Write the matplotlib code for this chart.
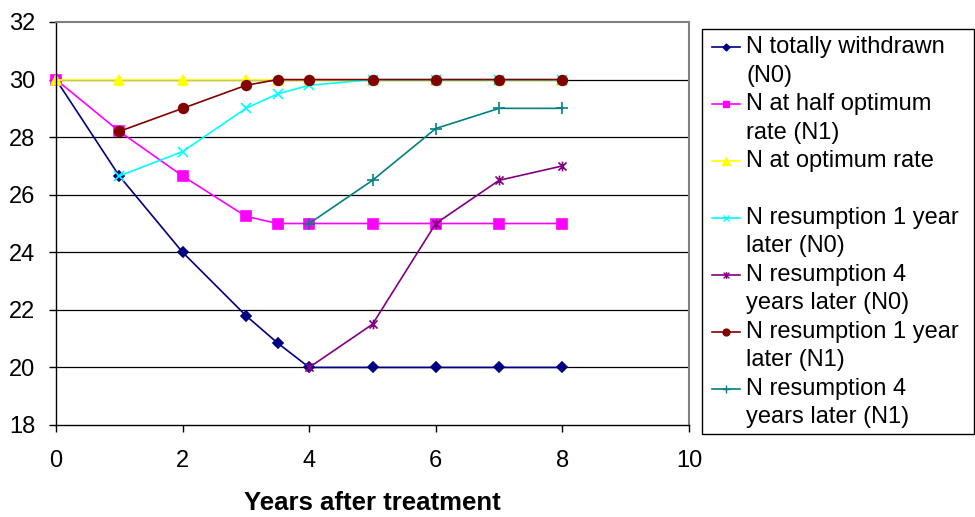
import matplotlib
matplotlib.use("Agg")
import matplotlib.pyplot as plt
from matplotlib.path import Path
from matplotlib.patches import Rectangle
from matplotlib.lines import Line2D

plt.rcParams['font.family'] = ['Liberation Sans', 'DejaVu Sans']

# nitrogen level over time for each treatment
years_full = [0, 1, 2, 3, 3.5, 4, 5, 6, 7, 8]
years_res1 = [1, 2, 3, 3.5, 4, 5, 6, 7, 8]
years_res4 = [4, 5, 6, 7, 8]

n_withdrawn = [30, 26.65, 24, 21.8, 20.85, 20, 20, 20, 20, 20]
n_half = [30, 28.2, 26.65, 25.25, 25, 25, 25, 25, 25, 25]
n_optimum = [30, 30, 30, 30, 30, 30, 30, 30, 30, 30]
n_res1_n0 = [26.65, 27.5, 29.0, 29.5, 29.8, 30, 30, 30, 30]
n_res4_n0 = [20, 21.5, 25, 26.5, 27]
n_res1_n1 = [28.2, 29.0, 29.8, 30, 30, 30, 30, 30, 30]
n_res4_n1 = [25, 26.5, 28.3, 29, 29]

labels = [
    "N totally withdrawn\n(N0)",
    "N at half optimum\nrate (N1)",
    "N at optimum rate\n",
    "N resumption 1 year\nlater (N0)",
    "N resumption 4\nyears later (N0)",
    "N resumption 1 year\nlater (N1)",
    "N resumption 4\nyears later (N1)",
]

# Excel style "star": an x with a vertical bar through it
star = Path([(-1, -1), (1, 1), (-1, 1), (1, -1), (0, -1.2), (0, 1.2)],
            [Path.MOVETO, Path.LINETO, Path.MOVETO, Path.LINETO, Path.MOVETO, Path.LINETO])

series = [
    (years_full, n_withdrawn, '#000080', 'D', 5, True),
    (years_full, n_half, '#FF00FF', 's', 6.5, True),
    (years_full, n_optimum, '#FFFF00', '^', 7.5, True),
    (years_res1, n_res1_n0, '#00FFFF', 'x', 7, False),
    (years_res4, n_res4_n0, '#800080', star, 7, False),
    (years_res1, n_res1_n1, '#800000', 'o', 7, True),
    (years_res4, n_res4_n1, '#008080', '+', 8, False),
]

fig = plt.figure(figsize=(9.75, 5.17), dpi=100)
ax = fig.add_axes([56 / 975, 92 / 517, 633 / 975, 403 / 517])

for x, y, c, m, ms, filled in series:
    ax.plot(x, y, color=c, lw=1.2, marker=m, ms=ms,
            mfc=c if filled else 'none', mec=c, mew=1.2, clip_on=False)

ax.set_xlim(0, 10)
ax.set_ylim(18, 32)
ax.set_xticks(range(0, 11, 2))
ax.set_yticks(range(18, 33, 2))
for yv in range(20, 32, 2):
    ax.axhline(yv, color='black', lw=0.9, zorder=0)

for side in ['top', 'right']:
    ax.spines[side].set_color('#808080')
    ax.spines[side].set_linewidth(1.5)
for side in ['left', 'bottom']:
    ax.spines[side].set_color('black')
    ax.spines[side].set_linewidth(1.0)

ax.tick_params(axis='both', direction='out', length=5, width=1, labelsize=17)
ax.tick_params(axis='x', pad=13)
ax.tick_params(axis='y', pad=10)
ax.set_xlabel("Years after treatment", fontsize=18.5, fontweight='bold', labelpad=14)

# legend drawn by hand so handles sit on the first line of each label
lax = fig.add_axes([0, 0, 1, 1])
lax.set_xlim(0, 975)
lax.set_ylim(517, 0)
lax.axis('off')
lax.add_patch(Rectangle((702, 29), 272, 405, facecolor='white',
                        edgecolor='black', lw=1))

row = 0
line_gap = 28.44
for (x, y, c, m, ms, filled), lab in zip(series, labels):
    base = 53.3 + row * line_gap
    lax.add_line(Line2D([712, 740], [base - 6, base - 6], color=c, lw=1.2))
    lax.add_line(Line2D([726], [base - 6], color=c, marker=m, ms=ms * 0.7,
                        mfc=c if filled else 'none', mec=c, mew=1.0))
    for part in lab.split("\n"):
        lax.text(746, 53.3 + row * line_gap, part, fontsize=17, va='baseline', ha='left')
        row += 1

fig.savefig("out.png", dpi=100)
